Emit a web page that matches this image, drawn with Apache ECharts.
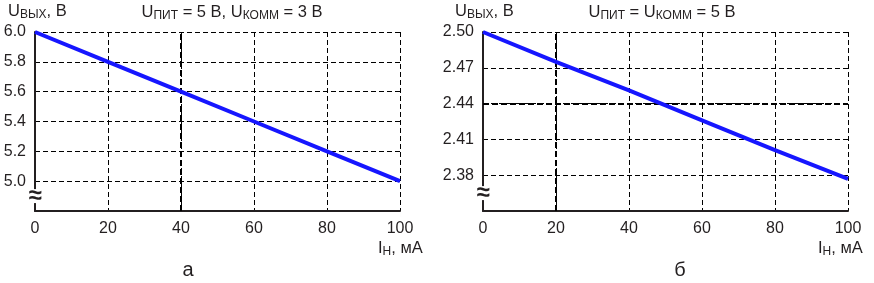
<!DOCTYPE html>
<html>
<head>
<meta charset="utf-8">
<script src="https://cdn.jsdelivr.net/npm/echarts@6/dist/echarts.min.js"></script>
<style>
html,body{margin:0;padding:0;background:#fff;}
#c{width:874px;height:283px;}
</style>
</head>
<body>
<div id="c"></div>
<script>
// ---- data ----
const loadCurrent = [0, 20, 40, 60, 80, 100];              // Iн, мА
const voutA = [6.0, 5.8, 5.6, 5.4, 5.2, 5.0];               // Uвых, В (а)
const voutB = [2.500, 2.475, 2.451, 2.426, 2.401, 2.377];   // Uвых, В (б)
const xTicks = [0, 20, 40, 60, 80, 100];
const yTicksA = [5.0, 5.2, 5.4, 5.6, 5.8, 6.0];
const yTicksB = [2.38, 2.41, 2.44, 2.47, 2.50];
const boldXA = [40];
const boldXB = [20];
const boldYB = [2.44];

const INK = '#231f20';
const FONT = '"Liberation Sans", Arial, sans-serif';
const LINE = '#1616ff';

function pairs(xs, ys){ return xs.map((x,i)=>[x, ys[i]]); }

const chart = echarts.init(document.getElementById('c'), null, {renderer:'canvas'});

function xAxisCfg(gridIndex){
  return {
    type:'value', gridIndex, min:0, max:100, interval:20,
    axisLine:{show:true, onZero:false, lineStyle:{color:INK, width:2}},
    axisTick:{show:false},
    axisLabel:{color:INK, fontSize:16, fontFamily:FONT, margin:10},
    splitLine:{show:true, lineStyle:{color:'#000', width:1, type:[5,3]}}
  };
}
function yAxisCfg(gridIndex, min, max, ticks, dec){
  return {
    type:'value', gridIndex, min, max,
    axisLine:{show:true, onZero:false, lineStyle:{color:INK, width:2}},
    axisTick:{show:false, customValues:ticks},
    axisLabel:{color:INK, fontSize:16, fontFamily:FONT, margin:9, customValues:ticks,
      formatter:(v)=>v.toFixed(dec)},
    splitLine:{show:true, lineStyle:{color:'#000', width:1, type:[5,3]}}
  };
}
function boldLines(xs, ys){
  const d = [];
  xs.forEach(v=>d.push({xAxis:v}));
  ys.forEach(v=>d.push({yAxis:v}));
  return {
    silent:true, symbol:['none','none'], label:{show:false}, animation:false,
    lineStyle:{color:'#000', width:2, type:[6,3]},
    data:d
  };
}

const option = {
  animation:false,
  grid:[
    {left:35, top:32, width:365, height:179},
    {left:483, top:32, width:365, height:179}
  ],
  xAxis:[xAxisCfg(0), xAxisCfg(1)],
  yAxis:[yAxisCfg(0, 4.8, 6.0, yTicksA, 1), yAxisCfg(1, 2.35, 2.50, yTicksB, 2)],
  series:[
    {type:'line', xAxisIndex:0, yAxisIndex:0, data:pairs(loadCurrent, voutA),
     showSymbol:false, lineStyle:{color:LINE, width:4}, z:5, markLine:boldLines(boldXA, [])},
    {type:'line', xAxisIndex:1, yAxisIndex:1, data:pairs(loadCurrent, voutB),
     showSymbol:false, lineStyle:{color:LINE, width:4}, z:5, markLine:boldLines(boldXB, boldYB)}
  ]
};
chart.setOption(option);

const rich = {
  n:{font:'16.5px '+FONT, fontSize:16.5, fontFamily:FONT, fill:INK, color:INK, verticalAlign:'bottom', lineHeight:16.5},
  s:{font:'12px '+FONT, fontSize:12, fontFamily:FONT, fill:INK, color:INK, verticalAlign:'bottom', lineHeight:12}
};
function txt(x, y, str, align){
  return {type:'text', x, y, z:100, style:{text:str, rich, fill:INK, align:align||'left', verticalAlign:'middle'}};
}
function brk(gridIdx, yVal, xAxisIdx){
  const p = chart.convertToPixel({xAxisIndex:xAxisIdx, yAxisIndex:gridIdx}, [0, yVal]);
  return [
    {type:'rect', shape:{x:p[0]-3, y:p[1]-7, width:6, height:14}, style:{fill:'#fff'}, z:99},
    {type:'text', x:p[0], y:p[1], z:100, style:{text:'≈', fill:INK, font:'bold 24px '+FONT, align:'center', verticalAlign:'middle'}}
  ];
}
chart.setOption({
  graphic:[
    txt(8, 12, '{n|U}{s|ВЫХ}{n|, В}'),
    txt(232, 13, '{n|U}{s|ПИТ}{n| = 5 В, U}{s|КОММ}{n| = 3 В}', 'center'),
    txt(378, 249, '{n|I}{s|Н}{n|, мА}'),
    {type:'text', x:188, y:270, style:{text:'а', fill:INK, font:'20px '+FONT, align:'center', verticalAlign:'middle'}},
    txt(455, 12, '{n|U}{s|ВЫХ}{n|, В}'),
    txt(662, 13, '{n|U}{s|ПИТ}{n| = U}{s|КОММ}{n| = 5 В}', 'center'),
    txt(818, 249, '{n|I}{s|Н}{n|, мА}'),
    {type:'text', x:680, y:270, style:{text:'б', fill:INK, font:'20px '+FONT, align:'center', verticalAlign:'middle'}},
    ...brk(0, 4.9, 0),
    ...brk(1, 2.365, 1)
  ]
});
</script>
</body>
</html>
